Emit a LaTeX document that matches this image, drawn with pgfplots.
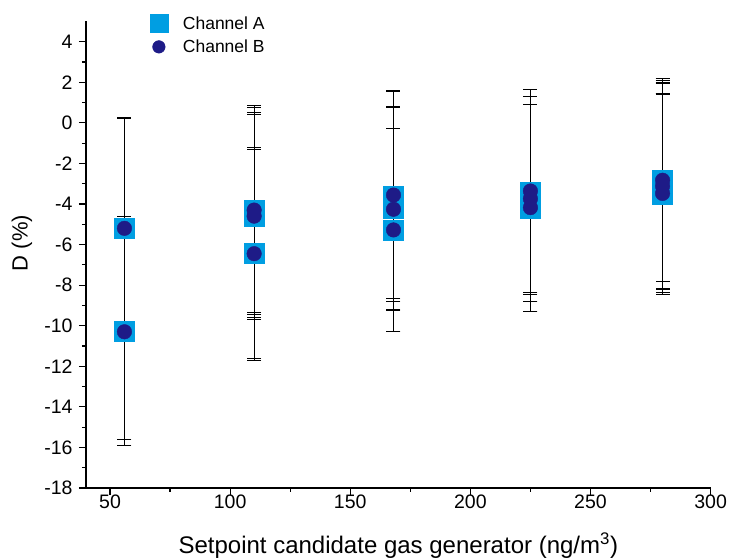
\documentclass[border=0pt]{standalone}
\usepackage{pgfplots}
\usepackage{pgfplotstable}
\pgfplotsset{compat=1.18}
\usepackage{fontspec}
\setmainfont{Liberation Sans}
\definecolor{chA}{RGB}{0,158,226}
\definecolor{chB}{RGB}{30,27,135}

\pgfplotstableread{
x y e
56 -5.2 5.45
56 -10.25 5.65
110 -4.3 5.15
110 -4.6 5.1
110 -6.45 5.25
168 -3.6 5.2
168 -4.2 5.0
168 -5.3 5.0
225 -3.4 5.05
225 -3.75 5.05
225 -4.2 5.1
280 -2.85 4.95
280 -3.1 5.1
280 -3.5 4.95
}\dataA

\pgfplotstableread{
x y e
56 -5.2 5.4
56 -10.3 5.3
110 -4.3 5.05
110 -4.6 5.0
110 -6.45 5.15
168 -3.56 5.1
168 -4.26 5.0
168 -5.28 5.0
225 -3.36 5.0
225 -3.74 5.05
225 -4.18 5.1
280 -2.83 5.0
280 -3.12 5.05
280 -3.48 4.9
}\dataB

\begin{document}
\begin{tikzpicture}[x=1pt,y=1pt]
\path[use as bounding box] (-86,-71) rectangle (643,488);
\begin{axis}[
  at={(0,0)}, anchor=south west,
  scale only axis, width=624.6pt, height=466.6pt,
  xmin=40, xmax=300, ymin=-18, ymax=5,
  axis lines*=left,
  xtick={50,100,...,300}, minor x tick num=1,
  ytick={-18,-16,...,4}, minor y tick num=1,
  tick align=outside,
  major tick length=7pt, minor tick length=4pt,
  every tick/.style={black, line width=1.2pt},
  axis line style={line width=1.4pt},
  ticklabel style={font=\fontsize{19.5}{19.5}\selectfont},
  yticklabel style={xshift=-3pt},
  xticklabel style={yshift=4pt},
  /pgf/number format/assume math mode=true,
  xlabel={Setpoint candidate gas generator (ng/m\textsuperscript{3})},
  ylabel={D (\%)},
  xlabel style={font=\fontsize{24}{24}\selectfont,
    at={(axis description cs:0.5,-0.123)}, anchor=center},
  ylabel style={font=\fontsize{22}{22}\selectfont,
    at={(axis description cs:-0.1025,0.525)}, anchor=center},
  legend style={at={(0.102,1.015)}, anchor=north west, draw=none, fill=none,
    font=\fontsize{17.5}{17.5}\selectfont, row sep=5pt, inner sep=0pt,
    /tikz/every odd column/.append style={column sep=13pt}},
  legend cell align=left,
]
\addplot[only marks, mark=square*, mark size=10pt, color=chA,
  legend image post style={mark size=9pt}] table[x=x,y=y]{\dataA};
\addlegendentry{Channel A}
\addplot[only marks, mark=*, mark size=7.3pt, color=chB,
  legend image post style={mark size=6.3pt}] table[x=x,y=y]{\dataB};
\addlegendentry{Channel B}
\addplot[draw=none, mark=none, forget plot,
  error bars/.cd, y dir=both, y explicit,
  error bar style={draw=black, line width=1.2pt},
  error mark options={draw=black, rotate=90, mark size=7pt, line width=1.1pt}]
  table[x=x,y=y,y error=e]{\dataA};
\addplot[draw=none, mark=none, forget plot,
  error bars/.cd, y dir=both, y explicit,
  error bar style={draw=black, line width=1.2pt},
  error mark options={draw=black, rotate=90, mark size=7pt, line width=1.1pt}]
  table[x=x,y=y,y error=e]{\dataB};
\end{axis}
\end{tikzpicture}
\end{document}
